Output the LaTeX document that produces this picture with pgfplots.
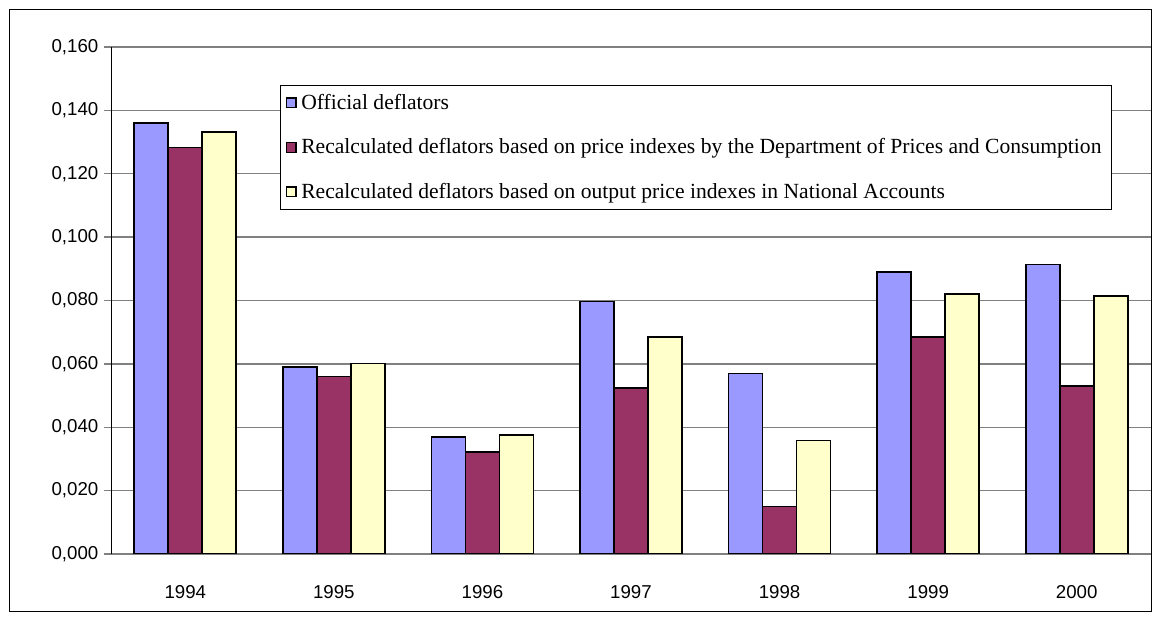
\documentclass[border=0pt]{standalone}
\usepackage{fontspec}
\setmainfont{Liberation Sans}
\newfontfamily\legfont{Liberation Serif}
\usepackage{pgfplots}
\pgfplotsset{compat=1.18}
\definecolor{cblue}{HTML}{9999FF}
\definecolor{cred}{HTML}{993366}
\definecolor{cyel}{HTML}{FFFFCC}
\definecolor{gridgray}{HTML}{808080}
\begin{document}
\begin{tikzpicture}
\path[use as bounding box] (-83.25pt,-51.75pt) rectangle (780.75pt,415.5pt);
\draw[black, line width=0.75pt] (-75.75pt,-43.5pt) rectangle (780pt,408pt);
\begin{axis}[
  at={(0pt,0pt)}, anchor=south west,
  scale only axis,
  width=780pt, height=380.25pt,
  xmin=-0.5, xmax=6.5,
  ymin=0, ymax=0.16,
  ybar=0pt, bar width=25.5pt,
  axis x line*=bottom, axis y line*=left,
  x axis line style={gridgray, line width=1pt, -},
  y axis line style={black, line width=0.6pt, -},
  xtick={0,...,6},
  xticklabels={1994,1995,1996,1997,1998,1999,2000},
  x tick style={draw=none},
  extra x ticks={-0.5,0.5,1.5,2.5,3.5,4.5,5.5},
  extra x tick labels={},
  extra x tick style={tick align=outside, major tick length=5pt, tick style={draw=black!70, line width=0.6pt}, grid=none},
  xticklabel style={yshift=-15pt},
  ytick={0,0.02,...,0.161},
  y tick style={draw=gridgray, line width=1pt},
  tick align=outside,
  major tick length=5pt,
  ymajorgrids,
  grid style={gridgray, line width=1pt},
  yticklabel style={xshift=-1pt},
  /pgf/number format/.cd, fixed, fixed zerofill, precision=3, use comma, 1000 sep={}, assume math mode=true,
  /pgfplots/.cd,
  tick label style={font=\fontsize{14}{16}\selectfont},
  legend style={at={(axis description cs:0.1625,0.925)}, anchor=north west,
    draw=black, line width=0.75pt, font=\legfont\fontsize{16.2}{19}\selectfont,
    row sep=16.5pt, inner xsep=4pt, inner ysep=4.5pt, legend cell align=left,
    nodes={inner xsep=3.5pt}},
  legend image code/.code={\draw[#1, draw=black, line width=0.9pt] (0pt,-3.6pt) rectangle (7.2pt,3.6pt);},
  every axis plot/.append style={draw=black, line width=1.3pt},
]
\addplot[fill=cblue] coordinates {(0,0.1361) (1,0.0590) (2,0.0370) (3,0.0797) (4,0.0570) (5,0.0891) (6,0.0914)};
\addplot[fill=cred] coordinates {(0,0.1283) (1,0.0560) (2,0.0323) (3,0.0524) (4,0.0150) (5,0.0684) (6,0.0530)};
\addplot[fill=cyel] coordinates {(0,0.1331) (1,0.0601) (2,0.0375) (3,0.0684) (4,0.0358) (5,0.0820) (6,0.0814)};
\legend{Official deflators,Recalculated deflators based on price indexes by the Department of Prices and Consumption,Recalculated deflators based on output price indexes in National Accounts}
\end{axis}
\end{tikzpicture}
\end{document}
